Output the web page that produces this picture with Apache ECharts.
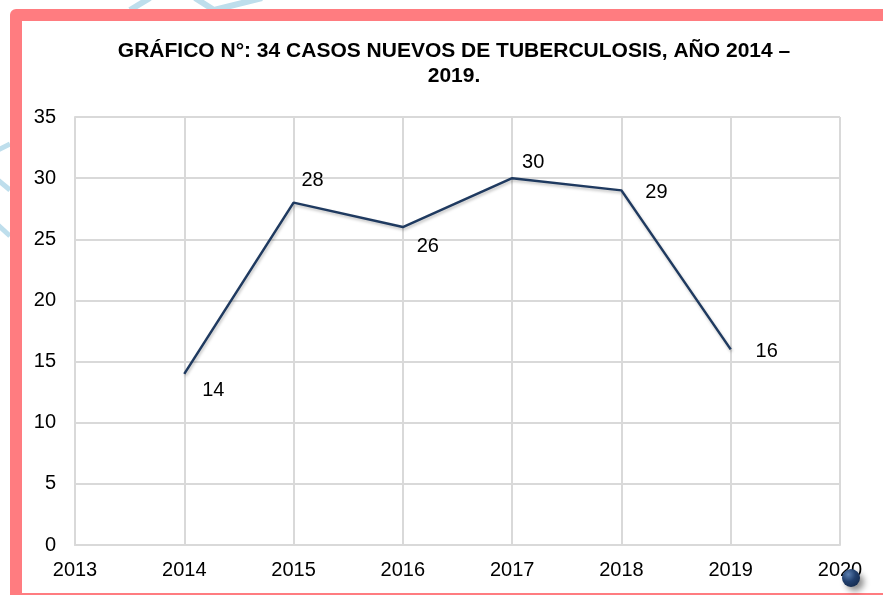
<!DOCTYPE html>
<html>
<head>
<meta charset="utf-8">
<title>Casos nuevos de tuberculosis 2014 – 2019</title>
<script src="https://cdn.jsdelivr.net/npm/echarts@6/dist/echarts.min.js"></script>
<style>
  html, body { margin: 0; padding: 0; background: #ffffff; }
  #chart { width: 883px; height: 595px; }
</style>
</head>
<body>
<div id="chart"></div>
<script>
// Data: new tuberculosis cases per year
const years = [2014, 2015, 2016, 2017, 2018, 2019];
const casos = [14, 28, 26, 30, 29, 16];

// Axis ranges
const xMin = 2013, xMax = 2020, xStep = 1;
const yMin = 0, yMax = 35, yStep = 5;

const titleText = 'GRÁFICO N°: 34 CASOS NUEVOS DE TUBERCULOSIS, AÑO 2014 –\n2019.';

// Where each value label sits relative to its point (pixels)
const labelOffsets = [[29, 17], [19, -22], [25, 19], [21, -16], [35, 2], [36, 2]];

const FONT = '"Liberation Sans", Arial, sans-serif';
const GRID_COLOR = '#d9d9d9';
const LINE_COLOR = '#1f3a60';
const FRAME_COLOR = '#ff7c80';

const chart = echarts.init(document.getElementById('chart'), null, { renderer: 'canvas' });

const points = years.map((y, i) => ({
  value: [y, casos[i]],
  label: { offset: labelOffsets[i] }
}));

chart.setOption({
  backgroundColor: '#ffffff',
  animation: false,
  textStyle: { fontFamily: FONT },
  title: {
    text: titleText,
    left: 454,
    top: 39,
    padding: 0,
    textAlign: 'center',
    textStyle: {
      fontFamily: FONT,
      fontSize: 21,
      fontWeight: 'bold',
      color: '#000000',
      lineHeight: 25
    }
  },
  grid: { left: 75, right: 43, top: 117, bottom: 50, containLabel: false },
  xAxis: {
    type: 'value',
    min: xMin,
    max: xMax,
    interval: xStep,
    axisLine: { show: true, lineStyle: { color: GRID_COLOR, width: 2 } },
    axisTick: { show: false },
    splitLine: { show: true, lineStyle: { color: GRID_COLOR, width: 2 } },
    axisLabel: {
      color: '#000000',
      fontSize: 20,
      fontFamily: FONT,
      margin: 15,
      formatter: v => String(v)
    }
  },
  yAxis: {
    type: 'value',
    min: yMin,
    max: yMax,
    interval: yStep,
    axisLine: { show: true, lineStyle: { color: GRID_COLOR, width: 2 } },
    axisTick: { show: false },
    splitLine: { show: true, lineStyle: { color: GRID_COLOR, width: 2 } },
    axisLabel: {
      color: '#000000',
      fontSize: 20,
      fontFamily: FONT,
      margin: 19
    }
  },
  series: [{
    type: 'line',
    data: points,
    symbol: 'circle',
    symbolSize: 1,
    showSymbol: true,
    itemStyle: { color: 'rgba(0,0,0,0)' },
    lineStyle: {
      color: LINE_COLOR,
      width: 2.5,
      shadowColor: 'rgba(0,0,0,0.25)',
      shadowBlur: 3,
      shadowOffsetX: 1,
      shadowOffsetY: 2
    },
    label: {
      show: true,
      position: 'inside',
      color: '#000000',
      fontSize: 20,
      fontFamily: FONT,
      formatter: p => String(p.value[1])
    },
    z: 3
  }],
  graphic: [
    // faint light-blue strokes outside the frame
    { type: 'polyline', z: -5, silent: true,
      shape: { points: [[130, 10], [150, -2]] },
      style: { stroke: '#bedeec', lineWidth: 6, fill: null } },
    { type: 'polyline', z: -5, silent: true,
      shape: { points: [[195, -2], [214, 10], [262, -2]] },
      style: { stroke: '#bedeec', lineWidth: 6, fill: null } },
    { type: 'polyline', z: -5, silent: true,
      shape: { points: [[-2, 150], [10, 144]] },
      style: { stroke: '#bedeec', lineWidth: 5, fill: null } },
    { type: 'polyline', z: -5, silent: true,
      shape: { points: [[-2, 180], [10, 190]] },
      style: { stroke: '#bedeec', lineWidth: 5, fill: null } },
    { type: 'polyline', z: -5, silent: true,
      shape: { points: [[-2, 225], [10, 236]] },
      style: { stroke: '#bedeec', lineWidth: 5, fill: null } },
    // chart frame
    { type: 'rect', z: 10, silent: true,
      shape: { x: 16, y: 15, width: 940, height: 584 },
      style: { stroke: FRAME_COLOR, lineWidth: 12, fill: null, lineJoin: 'round' } },
    // round marker in the lower right corner
    { type: 'circle', z: 20, silent: true,
      shape: { cx: 851, cy: 578, r: 9 },
      style: {
        fill: {
          type: 'radial', x: 0.35, y: 0.3, r: 0.8,
          colorStops: [
            { offset: 0, color: '#5b7fb0' },
            { offset: 0.5, color: '#22406e' },
            { offset: 1, color: '#13294b' }
          ]
        },
        shadowColor: 'rgba(0,0,0,0.45)',
        shadowBlur: 6,
        shadowOffsetX: 4,
        shadowOffsetY: 4
      } }
  ]
});
</script>
</body>
</html>
